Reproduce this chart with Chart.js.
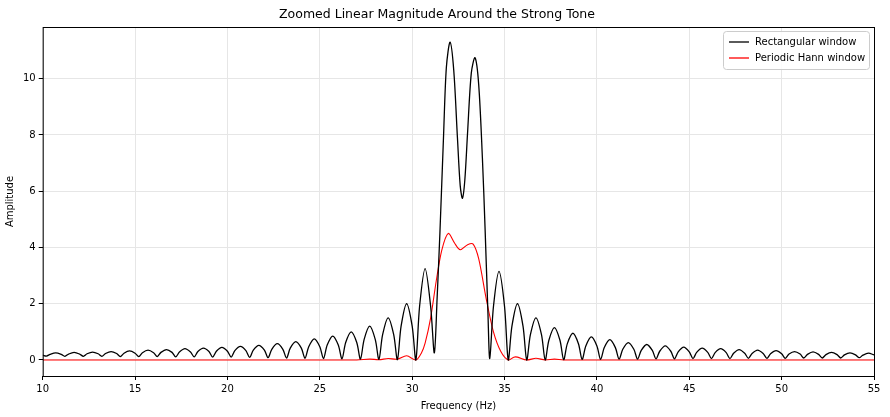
<!DOCTYPE html>
<html>
<head>
<meta charset="utf-8">
<script src="https://cdn.jsdelivr.net/npm/chart.js@4"></script>
<style>
  body { margin: 0; background: #fff; }
  #wrap { width: 890px; height: 417px; }
</style>
</head>
<body>
<div id="wrap"><canvas id="chart"></canvas></div>
<script>
"use strict";

const xTicks = [10, 15, 20, 25, 30, 35, 40, 45, 50, 55];
const yTicks = [0, 2, 4, 6, 8, 10];

// rectangular window magnitude, [Hz, amplitude]
const rectData = [
    [10.0, .17], [10.2, .14], [10.4, .2], [10.7, .25], [11.0, .2],
    [11.2, .13], [11.4, .21], [11.7, .27], [12.0, .21],
    [12.2, .13], [12.4, .22], [12.7, .28], [13.0, .22],
    [13.2, .13], [13.4, .23], [13.7, .30], [14.0, .23],
    [14.2, .12], [14.4, .24], [14.7, .32], [15.0, .24],
    [15.2, .12], [15.4, .26], [15.7, .35], [16.0, .26],
    [16.2, .12], [16.4, .27], [16.7, .37], [17.0, .27],
    [17.2, .11], [17.4, .28], [17.7, .40], [18.0, .28],
    [18.2, .11], [18.4, .30], [18.7, .42], [19.0, .30],
    [19.2, .10], [19.4, .31], [19.7, .45], [20.0, .31],
    [20.2, .10], [20.4, .33], [20.7, .48], [21.0, .33],
    [21.2, .09], [21.4, .35], [21.7, .52], [22.0, .35],
    [22.2, .08], [22.4, .38], [22.7, .58], [23.0, .38],
    [23.2, .07], [23.4, .42], [23.7, .65], [24.0, .42],
    [24.2, .06], [24.4, .47], [24.7, .75], [25.0, .47],
    [25.2, .05], [25.4, .53], [25.7, .85], [26.0, .53],
    [26.2, .04], [26.4, .62], [26.7, 1.0], [27.0, .62],
    [27.2, .03], [27.4, .73], [27.7, 1.2], [28.0, .73],
    [28.2, .02], [28.4, .9], [28.7, 1.5], [29.0, .9],
    [29.2, .01], [29.4, 1.2], [29.7, 2.0], [30.0, 1.2],
    [30.2, 0], [30.4, 1.9], [30.7, 3.25], [31.0, 1.9],
    [31.2, .25], [31.35, 2.2], [31.5, 4.5], [31.7, 8.0], [31.85, 10.4], [32.05, 11.3],
    [32.25, 10.3], [32.45, 7.9], [32.6, 6.2], [32.72, 5.75], [32.85, 6.4], [33.0, 8.1],
    [33.2, 10.2], [33.4, 10.75], [33.6, 9.8], [33.8, 7.2], [33.95, 4.6], [34.1, 1.7], [34.2, .05],
    [34.4, 1.9], [34.7, 3.15], [35.0, 1.9], [35.2, 0],
    [35.4, 1.2], [35.7, 2.0], [36.0, 1.2], [36.2, 0],
    [36.4, .9], [36.7, 1.5], [37.0, .9], [37.2, 0],
    [37.4, .7], [37.7, 1.15], [38.0, .7], [38.2, .01],
    [38.4, .58], [38.7, .95], [39.0, .58], [39.2, .02],
    [39.4, .5], [39.7, .82], [40.0, .5], [40.2, .02],
    [40.4, .44], [40.7, .72], [41.0, .44], [41.2, .03],
    [41.4, .38], [41.7, .62], [42.0, .38], [42.2, .03],
    [42.4, .34], [42.7, .55], [43.0, .34], [43.2, .04],
    [43.4, .31], [43.7, .5], [44.0, .31], [44.2, .04],
    [44.4, .29], [44.7, .46], [45.0, .29], [45.2, .05],
    [45.4, .27], [45.7, .42], [46.0, .27], [46.2, .05],
    [46.4, .26], [46.7, .4], [47.0, .26], [47.2, .05],
    [47.4, .24], [47.7, .37], [48.0, .24], [48.2, .06],
    [48.4, .23], [48.7, .35], [49.0, .23], [49.2, .06],
    [49.4, .22], [49.7, .33], [50.0, .22], [50.2, .06],
    [50.4, .21], [50.7, .3], [51.0, .21], [51.2, .07],
    [51.4, .2], [51.7, .29], [52.0, .2], [52.2, .07],
    [52.4, .19], [52.7, .27], [53.0, .19], [53.2, .07],
    [53.4, .18], [53.7, .25], [54.0, .18], [54.2, .08],
    [54.4, .17], [54.7, .24], [55.0, .18]
];

// periodic Hann window magnitude, [Hz, amplitude]
const hannData = [
    [10.0, 0], [27.0, 0], [27.7, .03], [28.2, .01], [28.7, .05], [29.2, .03],
    [29.7, .15], [30.2, 0], [30.5, .25], [30.7, .6], [31.0, 1.5], [31.3, 2.8],
    [31.6, 3.9], [31.95, 4.5], [32.3, 4.15], [32.6, 3.92], [33.0, 4.1], [33.3, 4.12],
    [33.6, 3.6], [34.0, 2.2], [34.4, 1.0], [34.8, .3], [35.2, 0], [35.5, .1],
    [35.7, .1], [36.2, 0], [36.7, .06], [37.2, 0], [37.7, .03], [38.2, 0], [55.0, 0]
];

function toPoints(list) {
    return list.map(p => ({x: p[0], y: p[1]}));
}

const frame = {
    id: "frame",
    afterDraw(chart) {
        const a = chart.chartArea;
        const ctx = chart.ctx;
        ctx.save();
        ctx.strokeStyle = "#000";
        ctx.lineWidth = 1;
        ctx.strokeRect(a.left + 0.5, a.top + 0.5, a.right - a.left, a.bottom - a.top);
        // legend
        const w = 146, h = 38;
        const x = a.right - w - 5, y = a.top + 4;
        ctx.fillStyle = "rgba(255,255,255,0.85)";
        ctx.strokeStyle = "#ccc";
        ctx.beginPath();
        ctx.roundRect(x + 0.5, y + 0.5, w, h, 3);
        ctx.fill();
        ctx.stroke();
        const items = [["Rectangular window", "#000"], ["Periodic Hann window", "#ff0000"]];
        ctx.font = "10px 'DejaVu Sans'";
        ctx.textBaseline = "middle";
        items.forEach((it, i) => {
            const ly = y + 11 + i * 16;
            ctx.strokeStyle = it[1];
            ctx.lineWidth = 1.3;
            ctx.beginPath();
            ctx.moveTo(x + 6, ly);
            ctx.lineTo(x + 26, ly);
            ctx.stroke();
            ctx.fillStyle = "#000";
            ctx.fillText(it[0], x + 32, ly);
        });
        ctx.restore();
    }
};

function buildChart() {
    const ctx = document.querySelector("#chart").getContext("2d");
    new Chart(ctx, {
        type: "line",
        data: {
            datasets: [
                {data: toPoints(rectData), borderColor: "#000", borderWidth: 1.3, tension: 0.3},
                {data: toPoints(hannData), borderColor: "#ff0000", borderWidth: 1.1, tension: 0.3}
            ]
        },
        options: {
            responsive: false,
            animation: false,
            pointRadius: 0,
            layout: {padding: {top: 0, right: 16, left: 0, bottom: 3}},
            plugins: {
                legend: {display: false},
                tooltip: {enabled: false},
                title: {
                    display: true,
                    text: "Zoomed Linear Magnitude Around the Strong Tone",
                    color: "#000",
                    font: {size: 12.5, family: "'DejaVu Sans'", weight: "normal"},
                    padding: {top: 7, bottom: 5}
                }
            },
            scales: {
                x: {
                    type: "linear", min: 10, max: 55,
                    afterBuildTicks: axis => { axis.ticks = xTicks.map(v => ({value: v})); },
                    grid: {color: "#e6e6e6", tickColor: "#000", tickLength: 4},
                    border: {display: false},
                    ticks: {color: "#000", font: {size: 10, family: "'DejaVu Sans'"}, maxRotation: 0},
                    title: {display: true, text: "Frequency (Hz)", color: "#000", font: {size: 10, family: "'DejaVu Sans'"}, padding: 2}
                },
                y: {
                    min: -0.57, max: 11.84,
                    afterBuildTicks: axis => { axis.ticks = yTicks.map(v => ({value: v})); },
                    grid: {color: "#e6e6e6", tickColor: "#000", tickLength: 4},
                    border: {display: false},
                    ticks: {color: "#000", font: {size: 10, family: "'DejaVu Sans'"}},
                    title: {display: true, text: "Amplitude", color: "#000", font: {size: 10, family: "'DejaVu Sans'"}, padding: 4}
                }
            }
        },
        plugins: [frame]
    });
}

const cv = document.querySelector("#chart");
cv.width = 890;
cv.height = 417;
buildChart();
</script>
</body>
</html>
